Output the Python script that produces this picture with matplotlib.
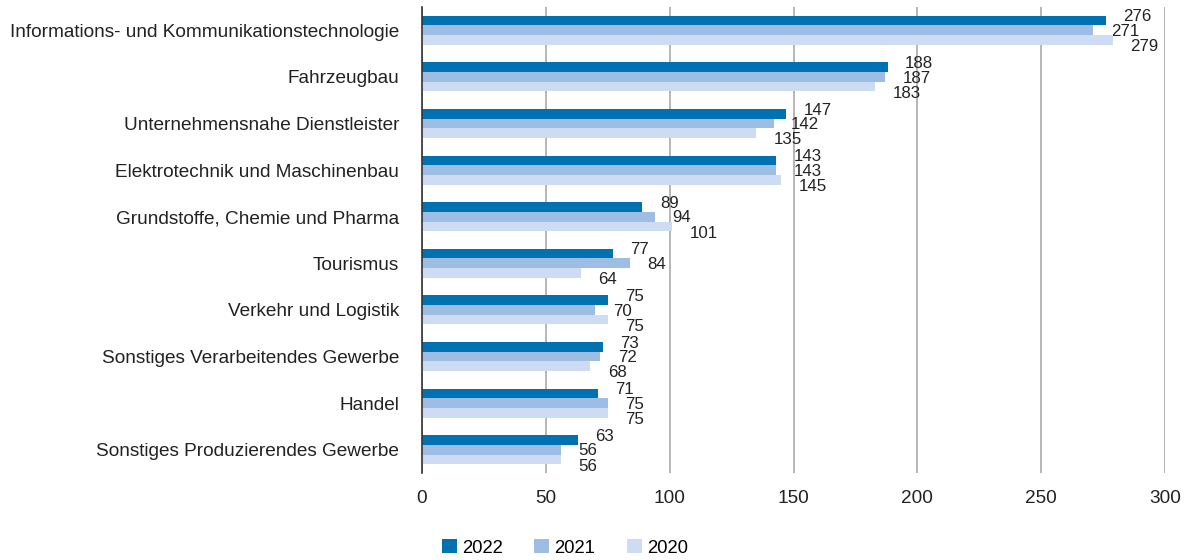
import numpy as np
import matplotlib.pyplot as plt

plt.rcParams['font.family'] = ['Liberation Sans', 'DejaVu Sans']

# Data (top to bottom)
categories = [
    'Informations- und Kommunikationstechnologie',
    'Fahrzeugbau',
    'Unternehmensnahe Dienstleister',
    'Elektrotechnik und Maschinenbau',
    'Grundstoffe, Chemie und Pharma',
    'Tourismus',
    'Verkehr und Logistik',
    'Sonstiges Verarbeitendes Gewerbe',
    'Handel',
    'Sonstiges Produzierendes Gewerbe',
]
years = ['2022', '2021', '2020']
v2022 = [276, 188, 147, 143, 89, 77, 75, 73, 71, 63]
v2021 = [271, 187, 142, 143, 94, 84, 70, 72, 75, 56]
v2020 = [279, 183, 135, 145, 101, 64, 75, 68, 75, 56]

colors = ['#0072b1', '#9dbde3', '#cddcf2']
series = [v2022, v2021, v2020]

fig = plt.figure(figsize=(11.89, 5.6), dpi=100)
ax = fig.add_axes([422 / 1189, 1 - 473 / 560, (1165 - 422) / 1189, 466 / 560])

y = np.arange(len(categories))
h = 0.208
# label vertical offsets in points, per series
label_dy = [2.6, -0.9, -4.9]
for i, (vals, col, yr) in enumerate(zip(series, colors, years)):
    pos = y + (i - 1) * h
    ax.barh(pos, vals, height=h, color=col, label=yr, zorder=3)
    for p, v in zip(pos, vals):
        ax.annotate(str(v), (v, p), xytext=(12.6, label_dy[i]), textcoords='offset points',
                    ha='left', va='center', fontsize=12.2, color='#222222')

ax.set_ylim(len(categories) - 0.5, -0.5)
ax.set_xlim(0, 300)
ax.set_xticks([0, 50, 100, 150, 200, 250, 300])
ax.set_yticks(y)
ax.set_yticklabels(categories)
ax.tick_params(axis='both', length=0, labelsize=13.7, colors='#222222')
ax.tick_params(axis='y', pad=16.5)
ax.tick_params(axis='x', pad=12.5)
ax.xaxis.grid(True, color='#b0b0b0', linewidth=1.3, zorder=0)
for s in ['top', 'right', 'bottom']:
    ax.spines[s].set_visible(False)
ax.spines['left'].set_color('#333333')
ax.spines['left'].set_linewidth(1.2)
ax.spines['left'].set_zorder(4)

fig.legend(loc='center', bbox_to_anchor=(565 / 1189, 1 - 548 / 560), ncol=3, frameon=False,
           fontsize=13.3, handlelength=0.81, handleheight=0.81, handletextpad=0.27,
           columnspacing=1.7)

fig.savefig('out.png', dpi=100)
